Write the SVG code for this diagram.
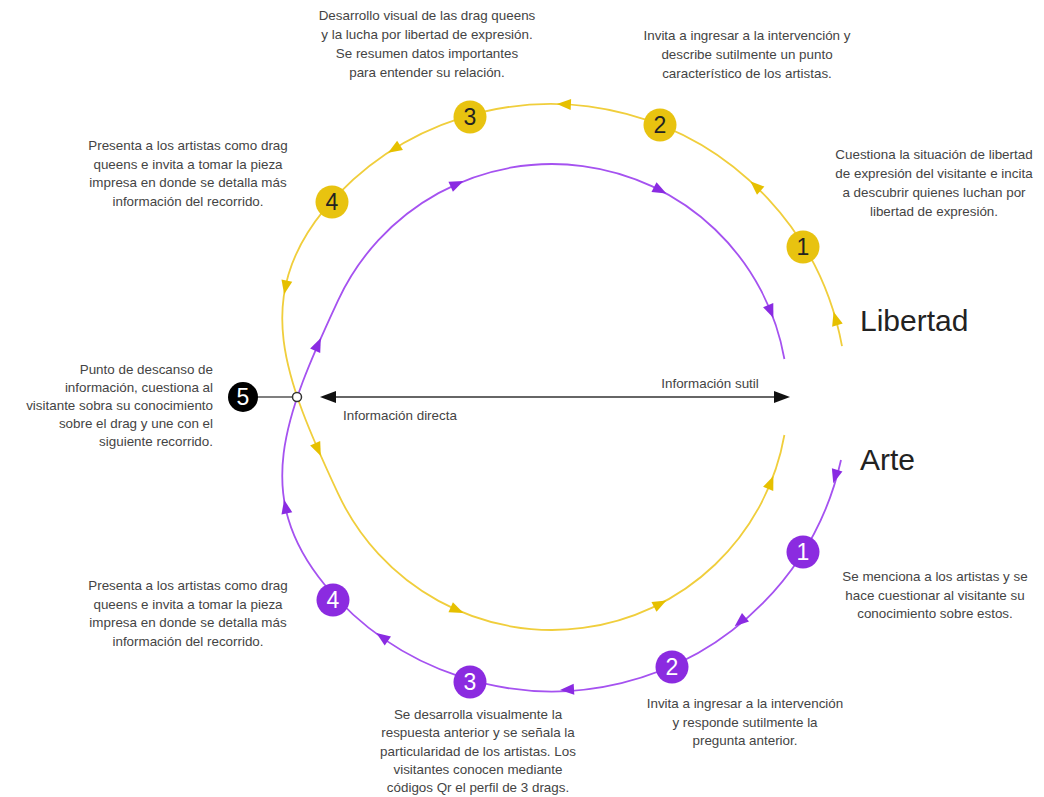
<svg xmlns="http://www.w3.org/2000/svg" xmlns:xlink="http://www.w3.org/1999/xlink" width="1044" height="797" viewBox="0 0 1044 797">
<style>
.t{font-family:"Liberation Sans",Arial,sans-serif;font-size:13.4px;fill:#444}
.c{text-anchor:middle}
.r{text-anchor:end}
.big{font-family:"Liberation Sans",Arial,sans-serif;font-size:30px;fill:#222}
.yl{fill:none;stroke:#F0CE3C;stroke-width:1.8}
.pl{fill:none;stroke:#A552F0;stroke-width:1.8}
.ya{fill:#E6C000}
.pa{fill:#8A2BE2}
.yn{fill:#E8C310}
.pn{fill:#8B2BE0}
.num{font-family:"Liberation Sans",Arial,sans-serif;font-size:23px;text-anchor:middle}
</style>
<defs>
<path id="ah" d="M7,0 L-7,-5.5 L-7,5.5 Z"/>
<path id="bh" d="M0,0 L-16,-6 L-16,6 Z"/>
</defs>
<rect width="1044" height="797" fill="#fff"/>
<g id="connectors">
<path id="yellow-path" class="yl" d="M842,346.1 A296,296 0 0 0 324.3,209.7 C252.4,297.8 283.2,375.9 338.1,493.7 A236,236 0 0 0 784.4,435"/>
<path id="purple-path" class="pl" d="M841,460 A296,296 0 0 1 324.3,584.3 C252.4,496.2 283.2,418.1 338.1,300.3 A236,236 0 0 1 784.4,359"/>
<g id="yellow-arrows" class="ya">
<use href="#ah" transform="translate(835.5,318.4) rotate(-106)"/>
<use href="#ah" transform="translate(755.5,186) rotate(-138)"/>
<use href="#ah" transform="translate(563.9,104.3) rotate(-177.5)"/>
<use href="#ah" transform="translate(394.1,149) rotate(148)"/>
<use href="#ah" transform="translate(285.5,287.5) rotate(101.4)"/>
<use href="#ah" transform="translate(318,449.7) rotate(66.2)"/>
<use href="#ah" transform="translate(457.1,610.1) rotate(23.7)"/>
<use href="#ah" transform="translate(660.2,603.7) rotate(-27.3)"/>
<use href="#ah" transform="translate(770.8,482.4) rotate(-68)"/>
</g>
<g id="purple-arrows" class="pa">
<use href="#ah" transform="translate(835.2,476.6) rotate(106.2)"/>
<use href="#ah" transform="translate(740.1,621.7) rotate(140.3)"/>
<use href="#ah" transform="translate(567,689.6) rotate(176.9)"/>
<use href="#ah" transform="translate(382.1,637) rotate(214.8)"/>
<use href="#ah" transform="translate(285.5,506.5) rotate(-101.4)"/>
<use href="#ah" transform="translate(318,344.3) rotate(-66.2)"/>
<use href="#ah" transform="translate(457.1,183.9) rotate(-23.7)"/>
<use href="#ah" transform="translate(660.2,190.3) rotate(27.3)"/>
<use href="#ah" transform="translate(770.8,311.6) rotate(68)"/>
</g>
<g id="info-arrow">
<line x1="334" y1="397" x2="776" y2="397" stroke="#333" stroke-width="1.5"/>
<use href="#bh" fill="#111" transform="translate(320,397) rotate(180)"/>
<use href="#bh" fill="#111" transform="translate(790,397)"/>
</g>
<line id="link5" x1="256" y1="397" x2="293" y2="397" stroke="#555" stroke-width="1.5"/>
<circle cx="297" cy="397" r="4.5" fill="#fff" stroke="#333" stroke-width="1.5"/>
</g>
<g id="y1"><circle class="yn" cx="803" cy="247" r="16.5"/><text class="num" x="803" y="255" fill="#222">1</text></g>
<g id="y2"><circle class="yn" cx="660" cy="125" r="16.5"/><text class="num" x="660" y="133" fill="#222">2</text></g>
<g id="y3"><circle class="yn" cx="470" cy="117" r="16.5"/><text class="num" x="470" y="125" fill="#222">3</text></g>
<g id="y4"><circle class="yn" cx="332" cy="202" r="16.5"/><text class="num" x="332" y="210" fill="#222">4</text></g>
<g id="p1"><circle class="pn" cx="803" cy="552" r="16.5"/><text class="num" x="803" y="560" fill="#fff">1</text></g>
<g id="p2"><circle class="pn" cx="672" cy="667" r="16.5"/><text class="num" x="672" y="675" fill="#fff">2</text></g>
<g id="p3"><circle class="pn" cx="470" cy="682" r="16.5"/><text class="num" x="470" y="690" fill="#fff">3</text></g>
<g id="p4"><circle class="pn" cx="333" cy="600" r="16.5"/><text class="num" x="333" y="608" fill="#fff">4</text></g>
<g id="n5"><circle cx="243" cy="397" r="15" fill="#000"/><text class="num" x="243" y="405" fill="#fff">5</text></g>
<g id="labels">
<text class="big" x="860" y="331">Libertad</text>
<text class="big" x="860" y="470">Arte</text>
<text class="t c" x="710" y="388">Información sutil</text>
<text class="t" x="343" y="420">Información directa</text>
</g>
<g id="desc-y3" class="t c">
<text x="427" y="20">Desarrollo visual de las drag queens</text>
<text x="427" y="39">y la lucha por libertad de expresión.</text>
<text x="427" y="58">Se resumen datos importantes</text>
<text x="427" y="77">para entender su relación.</text>
</g>
<g id="desc-y2" class="t c">
<text x="747" y="40">Invita a ingresar a la intervención y</text>
<text x="747" y="59">describe sutilmente un punto</text>
<text x="747" y="78">característico de los artistas.</text>
</g>
<g id="desc-y4" class="t c">
<text x="188" y="150">Presenta a los artistas como drag</text>
<text x="188" y="168.5">queens e invita a tomar la pieza</text>
<text x="188" y="187">impresa en donde se detalla más</text>
<text x="188" y="205.5">información del recorrido.</text>
</g>
<g id="desc-y1" class="t c">
<text x="934" y="159">Cuestiona la situación de libertad</text>
<text x="934" y="178">de expresión del visitante e incita</text>
<text x="934" y="197">a descubrir quienes luchan por</text>
<text x="934" y="216">libertad de expresión.</text>
</g>
<g id="desc-5" class="t r">
<text x="213" y="374">Punto de descanso de</text>
<text x="213" y="392">información, cuestiona al</text>
<text x="213" y="410">visitante sobra su conocimiento</text>
<text x="213" y="428">sobre el drag  y une con el</text>
<text x="213" y="446">siguiente recorrido.</text>
</g>
<g id="desc-p1" class="t c">
<text x="935" y="581">Se menciona a los artistas y se</text>
<text x="935" y="599.5">hace cuestionar al visitante su</text>
<text x="935" y="618">conocimiento sobre estos.</text>
</g>
<g id="desc-p4" class="t c">
<text x="188" y="590">Presenta a los artistas como drag</text>
<text x="188" y="608.5">queens e invita a tomar la pieza</text>
<text x="188" y="627">impresa en donde se detalla más</text>
<text x="188" y="645.5">información del recorrido.</text>
</g>
<g id="desc-p3" class="t c">
<text x="478" y="719">Se desarrolla visualmente la</text>
<text x="478" y="737">respuesta anterior y se señala la</text>
<text x="478" y="755.5">particularidad de los artistas. Los</text>
<text x="478" y="774">visitantes conocen mediante</text>
<text x="478" y="792">códigos Qr el perfil de 3 drags.</text>
</g>
<g id="desc-p2" class="t c">
<text x="745" y="708">Invita a ingresar a la intervención</text>
<text x="745" y="726.5">y responde sutilmente la</text>
<text x="745" y="745">pregunta anterior.</text>
</g>
</svg>
